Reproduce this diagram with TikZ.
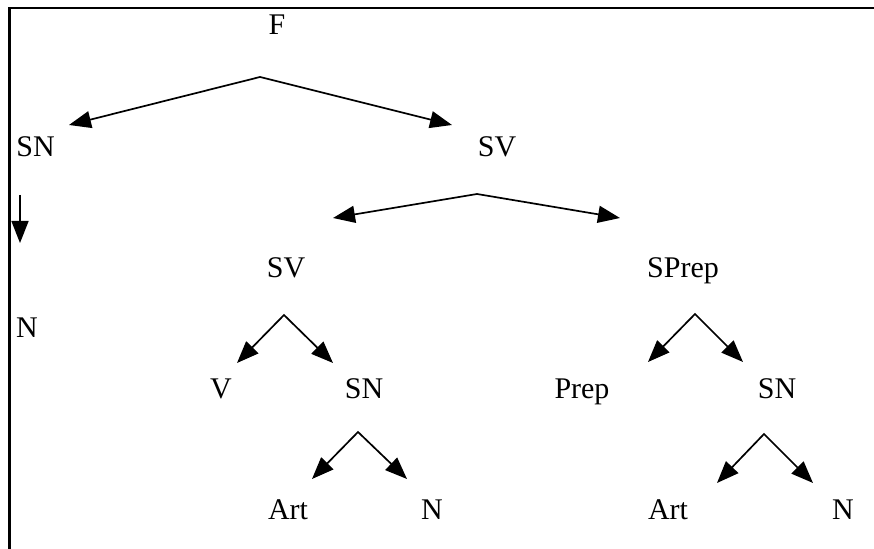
\documentclass[tikz,border=0pt]{standalone}
\usepackage{fontspec}
\setmainfont{Liberation Serif}
\usetikzlibrary{arrows.meta}
\tikzset{
    %Define standard arrow tip
    >={Triangle[length=11pt,width=8.5pt]}
}

\begin{document}
\begin{tikzpicture}[x=0.5pt, y=-0.5pt, font=\fontsize{15}{18}\selectfont, every node/.style={anchor=base, inner sep=0pt}, branch/.style={<->, line width=0.85pt}]

	\useasboundingbox (0, 0) rectangle (874, 549);
	\draw[line width=1.15pt] (9.5, 552) -- (9.5, 8) -- (877, 8);

	% words
	\node (f) at (277, 35) {F};
	\node (snA) at (35.5, 157) {SN};
	\node (svA) at (497, 157) {SV};
	\node (nA) at (27, 338) {N};
	\node (svB) at (286, 278) {SV};
	\node (sprep) at (683, 278) {SPrep};
	\node (v) at (221, 399) {V};
	\node (snB) at (364, 399) {SN};
	\node (prep) at (582, 399) {Prep};
	\node (snC) at (777, 399) {SN};
	\node (artA) at (288, 520) {Art};
	\node (nB) at (432, 520) {N};
	\node (artB) at (668, 520) {Art};
	\node (nC) at (843, 520) {N};

	% branch points
	\coordinate (fTop) at (260, 77);
	\coordinate (fL) at (69, 125);
	\coordinate (fR) at (452, 125);
	\coordinate (snTop) at (20, 195);
	\coordinate (snEnd) at (20, 243);
	\coordinate (svTop) at (477, 194);
	\coordinate (svL) at (333, 218);
	\coordinate (svR) at (620, 218);
	\coordinate (svbTop) at (284, 315);
	\coordinate (svbL) at (237, 363);
	\coordinate (svbR) at (333, 363);
	\coordinate (spTop) at (695, 314);
	\coordinate (spL) at (648, 362);
	\coordinate (spR) at (743, 362);
	\coordinate (snbTop) at (358, 432);
	\coordinate (snbL) at (312, 479);
	\coordinate (snbR) at (407, 479);
	\coordinate (sncTop) at (764, 434);
	\coordinate (sncL) at (717, 483);
	\coordinate (sncR) at (813, 483);

	\draw[branch] (fL) -- (fTop) -- (fR);
	\draw[->, line width=0.85pt] (snTop) -- (snEnd);
	\draw[branch] (svL) -- (svTop) -- (svR);
	\draw[branch] (svbL) -- (svbTop) -- (svbR);
	\draw[branch] (spL) -- (spTop) -- (spR);
	\draw[branch] (snbL) -- (snbTop) -- (snbR);
	\draw[branch] (sncL) -- (sncTop) -- (sncR);

\end{tikzpicture}
\end{document}
